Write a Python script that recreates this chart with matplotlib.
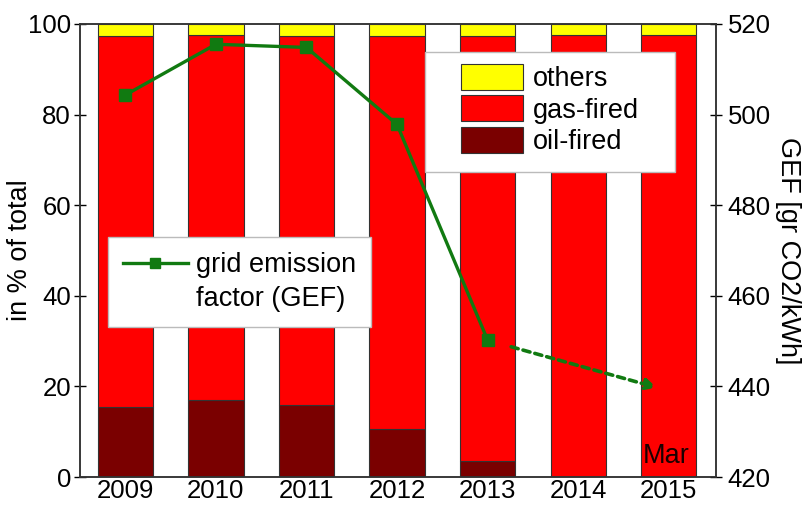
import matplotlib
matplotlib.use("Agg")
import matplotlib.pyplot as plt
from matplotlib.lines import Line2D
from matplotlib.patches import Rectangle
import numpy as np

plt.rcParams["font.family"] = ["Liberation Sans", "DejaVu Sans"]

YEARS = ["2009", "2010", "2011", "2012", "2013", "2014", "2015"]
OIL = [15.5, 17.0, 15.8, 10.5, 3.5, 0.0, 0.0]
OTHERS = [2.6, 2.5, 2.7, 2.6, 2.6, 2.5, 2.5]
GAS = [100 - o - t for o, t in zip(OIL, OTHERS)]

GEF_YEARS = ["2009", "2010", "2011", "2012", "2013"]
GEF = [504.3, 515.5, 514.8, 497.8, 450.2]
GEF_2015 = 439.0  # March estimate

GREEN = "#117a11"
EDGE = "#333333"
FS = 19.5
TICK_FS = 18.5

x = np.arange(len(YEARS))

fig = plt.figure(figsize=(8.1, 5.08), dpi=100)
ax = fig.add_axes([0.0988, 0.061, 0.785, 0.892])
ax2 = ax.twinx()

w = 0.61
ax.bar(x, OIL, w, color="#7a0000", edgecolor=EDGE, lw=0.8, label="oil-fired")
ax.bar(x, GAS, w, bottom=OIL, color="#ff0000", edgecolor=EDGE, lw=0.8, label="gas-fired")
ax.bar(x, OTHERS, w, bottom=np.array(OIL) + np.array(GAS), color="#ffff00",
       edgecolor=EDGE, lw=0.8, label="others")

ax.set_xlim(-0.5, 6.52)
ax.set_ylim(0, 100)
ax.set_xticks(x)
ax.set_xticklabels(YEARS, fontsize=TICK_FS)
ax.tick_params(axis="x", length=0, pad=1.5)
ax.tick_params(axis="y", labelsize=TICK_FS, direction="inout", length=9, width=1.0, pad=2)
ax.set_yticks([0, 20, 40, 60, 80, 100])
ax.set_ylabel("in % of total", fontsize=FS, va="center")
ax.yaxis.set_label_coords(-0.094, 0.5)

ax.text(5.97, 1.8, "Mar", fontsize=FS, ha="center", va="bottom", color="#1a0000")

gx = [YEARS.index(y) for y in GEF_YEARS]
ax2.plot(gx, GEF, color=GREEN, lw=2.4, marker="s", ms=9, zorder=5)
start_x = 4.26
start_y = GEF[-1] + (GEF_2015 - GEF[-1]) * (start_x - 4) / 2
ax2.annotate("", xy=(6, GEF_2015), xytext=(start_x, start_y),
             arrowprops=dict(arrowstyle="-|>", ls=(0, (2.0, 1.4)), lw=2.6, color=GREEN,
                             mutation_scale=16, shrinkA=0, shrinkB=9))
ax2.set_ylim(420, 520)
ax2.set_yticks([420, 440, 460, 480, 500, 520])
ax2.tick_params(axis="y", labelsize=TICK_FS, direction="inout", length=9, width=1.0, pad=4)
ax2.set_ylabel("GEF [gr CO2/kWh]", fontsize=FS, rotation=270, va="center")
ax2.yaxis.set_label_coords(1.113, 0.5)

for a in (ax, ax2):
    for s in a.spines.values():
        s.set_color(EDGE)
        s.set_linewidth(1.1)

# legend for the bars: white box drawn behind a frameless legend
ax2.add_patch(Rectangle((0.5425, 0.673), 0.393, 0.265, transform=ax2.transAxes,
                        facecolor="white", edgecolor="#bbbbbb", lw=1.0, zorder=6))
h, l = ax.get_legend_handles_labels()
leg1 = ax2.legend(h[::-1], l[::-1], loc="upper left", bbox_to_anchor=(0.599, 0.912),
                  fontsize=FS, frameon=False, handlelength=2.3, handleheight=1.1,
                  labelspacing=0.13, borderpad=0, borderaxespad=0, handletextpad=0.35)
leg1.set_zorder(7)
ax2.add_artist(leg1)

gef_handle = Line2D([], [], color=GREEN, lw=2.4, marker="s", ms=7)
blank = Line2D([], [], alpha=0)
leg2 = ax2.legend([gef_handle, blank], ["grid emission", "factor (GEF)"], loc="upper left",
                  bbox_to_anchor=(0.0440, 0.529), fontsize=FS, frameon=True,
                  fancybox=False, edgecolor="#bbbbbb", framealpha=1, handlelength=2.4,
                  labelspacing=0.3, borderpad=0.55, borderaxespad=0, handletextpad=0.3)
leg2.get_frame().set_linewidth(1.0)
leg2.set_zorder(7)

fig.savefig("out.png", dpi=100)
